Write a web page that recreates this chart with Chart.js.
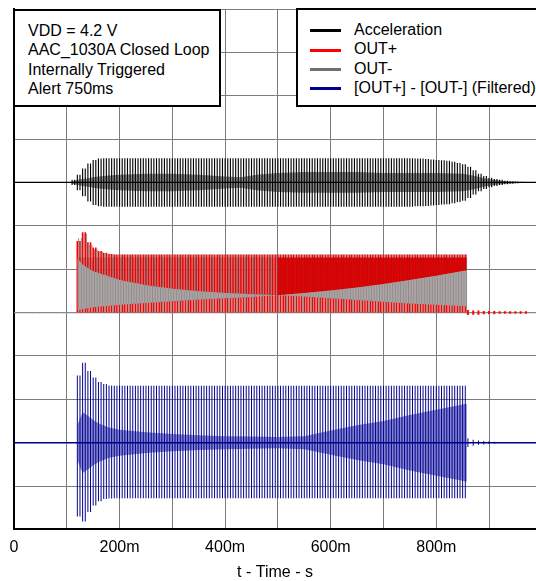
<!DOCTYPE html>
<html>
<head>
<meta charset="utf-8">
<title>AAC closed loop waveforms</title>
<script src="https://cdn.jsdelivr.net/npm/chart.js@4.4.1/dist/chart.umd.min.js"></script>
<style>
  html, body { margin: 0; padding: 0; background: #fff; }
  #wrap { position: relative; width: 536px; height: 581px; overflow: hidden; }
  #scope { position: absolute; left: 0; top: 0; }
  .box { position: absolute; box-sizing: border-box; background: #fff; border: 2px solid #000;
         font-family: "Liberation Sans", Arial, sans-serif; font-size: 16px; color: #000; }
  .box div { height: 19.3px; line-height: 19.3px; white-space: nowrap; }
  #note { left: 13px; top: 9px; width: 208px; height: 98px; padding: 10px 0 0 13px; }
  #key { left: 296px; top: 8px; width: 260px; height: 99px; padding: 10px 0 0 12px; }
  .sw { display: inline-block; width: 31px; height: 3px; margin-right: 13px; vertical-align: middle; }
</style>
</head>
<body>
<div id="wrap">
  <canvas id="scope" width="536" height="581"></canvas>
  <div class="box" id="note"></div>
  <div class="box" id="key"></div>
</div>
<script>
// ---- data (time in ms, amplitudes in grid divisions) ----
const noteLines = ['VDD = 4.2 V', 'AAC_1030A Closed Loop', 'Internally Triggered', 'Alert 750ms'];
const seriesNames = ['Acceleration', 'OUT+', 'OUT-', '[OUT+] - [OUT-] (Filtered)'];
const seriesColors = ['#000000', '#ff0000', '#707070', '#00008b'];
const xTickValues = [0, 200, 400, 600, 800];
const xTickLabels = ['0', '200m', '400m', '600m', '800m'];

const accelTimes = [
  110,120,130,140,150,160,170,180,190,200,
  210,220,230,240,250,260,270,280,290,300,
  310,320,330,340,350,360,370,380,390,400,
  410,420,430,440,450,460,470,480,490,500,
  510,520,530,540,550,560,570,580,590,600,
  610,620,630,640,650,660,670,680,690,700,
  710,720,730,740,750,760,770,780,790,800,
  810,820,830,840,850,860,870,880,890,900,
  910,920,930,940,950,960,970];
const accelAmp = [
  0.06,0.18,0.32,0.44,0.52,0.55,0.56,0.56,0.56,0.56,
  0.56,0.56,0.56,0.56,0.56,0.56,0.56,0.56,0.56,0.56,
  0.56,0.56,0.56,0.56,0.56,0.56,0.56,0.56,0.56,0.56,
  0.56,0.56,0.56,0.56,0.56,0.56,0.56,0.56,0.56,0.56,
  0.56,0.56,0.56,0.56,0.56,0.56,0.56,0.56,0.56,0.56,
  0.56,0.56,0.56,0.56,0.56,0.56,0.56,0.56,0.56,0.56,
  0.56,0.56,0.56,0.56,0.56,0.55,0.55,0.54,0.53,0.52,
  0.51,0.50,0.48,0.45,0.42,0.36,0.28,0.20,0.15,0.11,
  0.08,0.06,0.04,0.03,0.02,0.015,0.01];

const activeTimes = [
  120,130,140,150,160,170,180,190,200,
  210,220,230,240,250,260,270,280,290,300,
  310,320,330,340,350,360,370,380,390,400,
  410,420,430,440,450,460,470,480,490,500,
  510,520,530,540,550,560,570,580,590,600,
  610,620,630,640,650,660,670,680,690,700,
  710,720,730,740,750,760,770,780,790,800,
  810,820,830,840,850];
const outPlusTop = [
  1.65,1.85,1.62,1.50,1.42,1.38,1.35,1.34,1.34,
  1.34,1.34,1.34,1.34,1.34,1.34,1.34,1.34,1.34,1.34,
  1.34,1.34,1.34,1.34,1.34,1.34,1.34,1.34,1.34,1.34,
  1.34,1.34,1.34,1.34,1.34,1.34,1.34,1.34,1.34,1.34,
  1.34,1.34,1.34,1.34,1.34,1.34,1.34,1.34,1.34,1.34,
  1.34,1.34,1.34,1.34,1.34,1.34,1.34,1.34,1.34,1.34,
  1.34,1.34,1.34,1.34,1.34,1.34,1.34,1.34,1.34,1.34,
  1.34,1.34,1.34,1.34,1.34];
const outMinusTop = [
  1.72,1.82,1.56,1.46,1.40,1.36,1.35,1.34,1.34,
  1.34,1.34,1.34,1.34,1.34,1.34,1.34,1.34,1.34,1.34,
  1.34,1.34,1.34,1.34,1.34,1.34,1.34,1.34,1.34,1.34,
  1.34,1.34,1.34,1.34,1.34,1.34,1.34,1.34,1.34,1.34,
  1.34,1.34,1.34,1.34,1.34,1.34,1.34,1.34,1.34,1.34,
  1.34,1.34,1.34,1.34,1.34,1.34,1.34,1.34,1.34,1.34,
  1.34,1.34,1.34,1.34,1.34,1.34,1.34,1.34,1.34,1.34,
  1.34,1.34,1.34,1.34,1.34];
const diffTop = [
  1.55,1.84,1.65,1.50,1.40,1.35,1.32,1.31,1.31,
  1.31,1.31,1.31,1.31,1.31,1.31,1.31,1.31,1.31,1.31,
  1.31,1.31,1.31,1.31,1.31,1.31,1.31,1.31,1.31,1.31,
  1.31,1.31,1.31,1.31,1.31,1.31,1.31,1.31,1.31,1.31,
  1.31,1.31,1.31,1.31,1.31,1.31,1.31,1.31,1.31,1.31,
  1.31,1.31,1.31,1.31,1.31,1.31,1.31,1.31,1.31,1.31,
  1.31,1.31,1.31,1.31,1.31,1.31,1.31,1.31,1.31,1.31,
  1.31,1.31,1.31,1.31,1.31];
const diffBottom = [
  1.70,1.82,1.60,1.45,1.35,1.30,1.29,1.28,1.28,
  1.28,1.28,1.28,1.28,1.28,1.28,1.28,1.28,1.28,1.28,
  1.28,1.28,1.28,1.28,1.28,1.28,1.28,1.28,1.28,1.28,
  1.28,1.28,1.28,1.28,1.28,1.28,1.28,1.28,1.28,1.28,
  1.28,1.28,1.28,1.28,1.28,1.28,1.28,1.28,1.28,1.28,
  1.28,1.28,1.28,1.28,1.28,1.28,1.28,1.28,1.28,1.28,
  1.28,1.28,1.28,1.28,1.28,1.28,1.28,1.28,1.28,1.28,
  1.28,1.28,1.28,1.28,1.28];

const outTailTimes = [860,870,880,890,900,910,920,930,940,950,960,970];
const outTail = [0.05,0.04,0.04,0.03,0.03,0.03,0.02,0.02,0.02,0.02,0.02,0.02];
const diffTailTimes = [860,870,880,890,900,910];
const diffTail = [0.10,0.07,0.05,0.04,0.03,0.02];

// dense inner bands of the oscillations
const accelBandTimes = [110,120,130,140,150,160,180,200,250,300,350,400,430,460,500,550,600,650,700,750,800,850,870,890,910,930,960,980];
const accelCore = [0.03,0.06,0.08,0.10,0.12,0.14,0.16,0.18,0.20,0.20,0.18,0.14,0.12,0.18,0.22,0.24,0.24,0.24,0.22,0.22,0.22,0.20,0.16,0.10,0.06,0.03,0.01,0];
const diffBandTimes = [120,130,140,150,160,180,200,250,300,350,400,450,500,550,600,650,700,750,800,850,858];
const diffCore = [0.40,0.70,0.62,0.52,0.45,0.35,0.30,0.24,0.20,0.17,0.15,0.14,0.13,0.15,0.28,0.40,0.50,0.64,0.76,0.88,0.90];
// the X seen in the OUT+/OUT- trace
const crossTimes = [120,130,150,200,250,300,350,400,450,500,550,600,650,700,750,800,850,858];
const crossA = [1.25,1.10,0.95,0.75,0.63,0.55,0.49,0.45,0.42,0.40,0.37,0.33,0.29,0.25,0.21,0.18,0.15,0.14];
const crossB = [0.05,0.08,0.12,0.18,0.22,0.26,0.30,0.33,0.36,0.40,0.45,0.51,0.58,0.66,0.75,0.85,0.96,0.97];
const capLeftTimes = [120, 500];
const capRightTimes = [500, 858];
const capLevel = [1.27, 1.27];

// ---- layout ----
const FONT = '"Liberation Sans", Arial, sans-serif';
const ACCEL_Y = 8, OUT_Y = 5, DIFF_Y = 2;
const X_MAX = 989;

document.getElementById('note').innerHTML = noteLines.map(t => '<div>' + t + '</div>').join('');
document.getElementById('key').innerHTML = seriesNames.map((t, i) =>
  '<div><span class="sw" style="background:' + seriesColors[i] + '"></span>' + t + '</div>').join('');

function line(xs, ys, base, sign) {
  return xs.map((x, i) => ({ x: x, y: base + sign * ys[i] }));
}
function bars(xs, hi, lo, base, dx) {
  return xs.map((x, i) => ({ x: x + dx, y: [base - (lo ? lo[i] : 0), base + hi[i]] }));
}
function flat(base) {
  return [{ x: 0, y: base }, { x: X_MAX, y: base }];
}

const band = { type: 'line', pointRadius: 0, borderWidth: 0, borderColor: 'rgba(0,0,0,0)', fill: false };
const barOpts = { type: 'bar', grouped: false, categoryPercentage: 1, borderWidth: 0 };

const ctx = document.getElementById('scope').getContext('2d');
new Chart(ctx, {
  type: 'bar',
  data: {
    datasets: [
      // Acceleration
      { ...band, data: line(accelBandTimes, accelCore, ACCEL_Y, 1), order: 10 },
      { ...band, data: line(accelBandTimes, accelCore, ACCEL_Y, -1), fill: '-1', backgroundColor: '#858585', order: 10 },
      { type: 'line', data: flat(ACCEL_Y), borderColor: '#000', borderWidth: 1.3, pointRadius: 0, order: 8 },
      { ...barOpts, data: bars(accelTimes, accelAmp, accelAmp, ACCEL_Y, 0), backgroundColor: '#000', barPercentage: 0.85, order: 3 },
      { ...barOpts, data: bars(accelTimes, accelAmp, accelAmp, ACCEL_Y, 5), backgroundColor: '#000', barPercentage: 0.85, order: 3 },

      // OUT+ / OUT-
      { type: 'line', data: flat(OUT_Y), borderColor: '#8a8a8a', borderWidth: 1.3, pointRadius: 0, order: 8 },
      { type: 'line', data: flat(OUT_Y), borderColor: '#ff0000', borderWidth: 1, borderDash: [2, 4], pointRadius: 0, order: 8 },
      { ...barOpts, data: bars(activeTimes, outPlusTop, null, OUT_Y, 0), backgroundColor: '#ff0000', barPercentage: 1.25, order: 7 },
      { ...barOpts, data: bars(activeTimes, outPlusTop, null, OUT_Y, 5), backgroundColor: '#ff0000', barPercentage: 1.25, order: 7 },
      { ...barOpts, data: bars(outTailTimes, outTail, outTail, OUT_Y, 0), backgroundColor: '#ff0000', barPercentage: 1, order: 7 },
      { ...band, data: line(crossTimes, crossB, OUT_Y, 1), order: 6 },
      { ...band, data: line(crossTimes, crossA, OUT_Y, 1), fill: '-1', backgroundColor: 'rgba(172,172,172,0.95)', order: 6 },
      { ...band, data: line(capLeftTimes, capLevel, OUT_Y, 1), fill: { target: '-1', above: 'rgba(235,0,0,0.6)', below: 'rgba(0,0,0,0)' }, order: 6.5 },
      { ...band, data: line(capRightTimes, capLevel, OUT_Y, 1), fill: { target: '-3', above: 'rgba(212,0,0,0.93)', below: 'rgba(0,0,0,0)' }, order: 4 },
      { ...barOpts, data: bars(activeTimes, outMinusTop, null, OUT_Y, 2.5), backgroundColor: '#8a8a8a', barPercentage: 0.7, order: 5 },
      { ...barOpts, data: bars(activeTimes, outMinusTop, null, OUT_Y, 7.5), backgroundColor: '#8a8a8a', barPercentage: 0.7, order: 5 },

      // filtered difference
      { type: 'line', data: flat(DIFF_Y), borderColor: '#00008b', borderWidth: 1.5, pointRadius: 0, order: 8 },
      { ...band, data: line(diffBandTimes, diffCore, DIFF_Y, 1), order: 10 },
      { ...band, data: line(diffBandTimes, diffCore, DIFF_Y, -1), fill: '-1', backgroundColor: '#8383cf', order: 10 },
      { ...barOpts, data: bars(activeTimes, diffTop, diffBottom, DIFF_Y, 0), backgroundColor: '#00008b', barPercentage: 0.75, order: 3 },
      { ...barOpts, data: bars(activeTimes, diffTop, diffBottom, DIFF_Y, 5), backgroundColor: '#00008b', barPercentage: 0.75, order: 3 },
      { ...barOpts, data: bars(diffTailTimes, diffTail, diffTail, DIFF_Y, 0), backgroundColor: '#00008b', barPercentage: 0.75, order: 3 }
    ]
  },
  options: {
    responsive: false,
    animation: false,
    devicePixelRatio: 1,
    layout: { padding: { left: 14, top: 9, right: 0, bottom: 0 } },
    plugins: { legend: { display: false }, tooltip: { enabled: false } },
    scales: {
      x: {
        type: 'linear', min: 0, max: X_MAX, offset: false,
        grid: { color: '#7c7c7c', lineWidth: 1, drawTicks: false, offset: false },
        border: { display: true, color: '#000', width: 2 },
        ticks: {
          stepSize: 100, includeBounds: false, autoSkip: false, maxRotation: 0, padding: 9,
          color: '#000', font: { family: FONT, size: 16 },
          callback: v => { const i = xTickValues.indexOf(v); return i >= 0 ? xTickLabels[i] : ''; }
        },
        title: { display: true, text: 't - Time - s', color: '#000', font: { family: FONT, size: 16 }, padding: { top: -3.3, bottom: -1.5 } }
      },
      y: {
        min: 0, max: 12,
        grid: { color: '#7c7c7c', lineWidth: 1, drawTicks: false },
        border: { display: true, color: '#000', width: 2 },
        ticks: { display: false, stepSize: 1 }
      }
    }
  }
});
</script>
</body>
</html>
